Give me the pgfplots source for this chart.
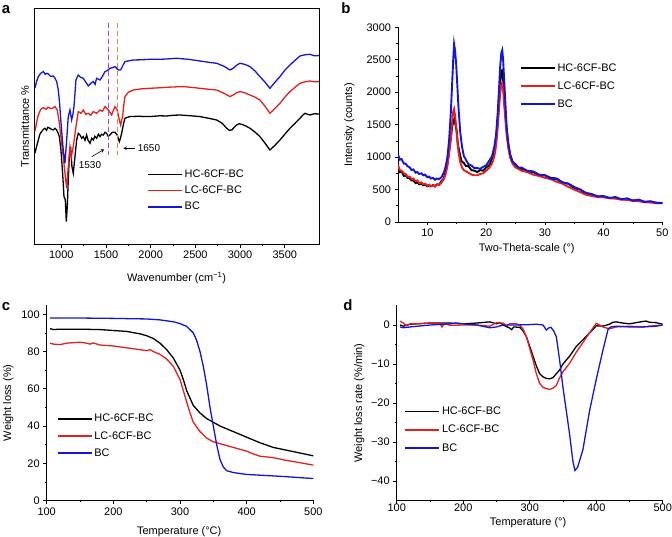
\documentclass[border=0pt]{standalone}
\usepackage{fontspec}
\setmainfont{Liberation Sans}
\usepackage{pgfplots}
\pgfplotsset{compat=1.18}
\definecolor{cred}{RGB}{232,30,30}
\definecolor{cblue}{RGB}{20,20,222}
\definecolor{cpurple}{RGB}{175,70,205}
\definecolor{corange}{RGB}{225,135,60}
\pgfplotsset{
  panel/.style={
    scale only axis,
    axis line style={line width=0.6bp},
    every tick/.style={line width=0.6bp, black},
    tick align=outside,
    major tick length=3.5bp,
    minor tick length=2bp,
    ticklabel style={font=\fontsize{11}{13}\selectfont},
    label style={font=\fontsize{11}{13}\selectfont},
    /pgf/number format/assume math mode=true,
    /pgf/number format/1000 sep={},
    legend style={draw=none, fill=none, font=\fontsize{11}{13}\selectfont, anchor=north west, inner sep=0pt, row sep=0pt},
    legend cell align=left,
  },
  open/.style={axis x line*=bottom, axis y line*=left},
  leglen/.style={legend image code/.code={\draw[##1, line width=#1] (0bp,0bp) -- (34bp,0bp);}},
}
\begin{document}
\begin{tikzpicture}[x=1bp,y=1bp]
\path[use as bounding box] (0,0) rectangle (672,537);
% ---------------- panel a
\begin{axis}[panel, at={(34.3bp,292.7bp)}, anchor=south west, width=284.7bp, height=236bp,
  xmin=698, xmax=3883, ymin=0, ymax=236,
  xtick={1000,1500,2000,2500,3000,3500}, minor x tick num=1, ytick=\empty,
  tick pos=left,
  xlabel={Wavenumber (cm\textsuperscript{−1})}, ylabel={Transmittance \%},
  xlabel style={at={(axis description cs:0.5,-0.144)}, anchor=center},
  ylabel style={at={(axis description cs:-0.033,0.5)}, anchor=center},
  legend style={at={(axis description cs:0.396,0.324)}, row sep=3bp},
  leglen=1.5bp,
  every axis plot/.append style={line width=1.3bp}]
\addplot[black] table {
705 91
724 98
743 104.3
760 110
780 112.7
800 115
817 116
835 114
850 117
873 116
890 115
911 114.3
930 116
948 114.3
965 111
978 107.7
996 94.3
1015 71
1030 47.7
1045 44.3
1056 22.7
1067 37.7
1078 64.3
1090 87.7
1104 97.7
1112 88
1119 77.7
1134 71
1153 87.7
1172 104.3
1190 111
1209 109.3
1228 106
1246 107.7
1265 104
1283 109.3
1300 104
1321 101
1340 106
1358 104.3
1375 108
1395 106
1415 110
1433 107.7
1450 110
1470 109.3
1490 112
1507 111
1525 108
1544 109.3
1570 112
1600 112
1626 109.3
1649 102.7
1662 106
1675 111
1695 120
1712 126
1740 127
1768 127.7
1850 128
1992 127.7
2100 128.5
2178 128.3
2250 129
2328 129.3
2450 128.5
2551 127.7
2650 126
2738 124.3
2800 121
2850 116
2880 114
2906 114.3
2935 117
2961 119.3
2990 120.5
3017 120
3060 118.5
3111 116
3170 112
3222 107.7
3280 101
3334 94.3
3390 99
3446 104.3
3500 110
3558 116
3615 121
3670 126
3700 129
3726 131
3755 130
3782 129.3
3830 130.5
3882 130.3
};
\addlegendentry{HC-6CF-BC}
\addplot[cred] table {
705 112.7
724 122
743 129.3
770 135
799 136.7
830 135
850 137
873 136
900 136
929 137.7
955 134.3
978 121
1000 104.3
1022 87.7
1041 71
1060 56
1078 77.7
1097 97.7
1112 87.7
1134 97.7
1150 108
1164 117.7
1190 132.7
1220 131
1246 134.3
1275 130
1302 131
1330 129
1358 132.7
1395 131
1433 134.3
1460 133
1489 137.7
1526 134.3
1563 129.3
1600 137.7
1626 134.3
1649 124.3
1664 119.3
1686 127.7
1700 140
1712 147.7
1750 152
1805 154.3
1900 155.5
1992 156
2100 156.5
2178 157
2300 157.5
2365 157.7
2450 157
2551 156
2650 155
2738 154.3
2820 151
2887 147.7
2924 149.3
2960 151.5
2999 152.7
3050 151.5
3111 149.3
3170 147
3222 144.3
3280 138
3334 131
3390 136
3446 141
3500 147
3558 152.7
3615 157
3670 161
3726 162.5
3782 163.3
3830 162.5
3882 162.7
};
\addlegendentry{LC-6CF-BC}
\addplot[cblue] table {
705 156
724 163
743 167.7
770 171
799 172.7
820 170
840 171
855 170.3
880 168
911 168.3
930 166
948 162.7
965 155
978 144.3
1000 117.7
1022 94.3
1041 81
1060 104.3
1078 127.7
1097 134.3
1116 124.3
1130 130
1142 137.7
1164 164.3
1190 169.3
1215 167
1246 166
1275 162
1302 158.3
1330 161
1358 162.7
1378 160
1395 166
1433 164.3
1460 168
1489 172.7
1520 174
1544 176
1570 176.5
1600 177.7
1638 174.3
1664 174.3
1690 179
1712 182.7
1760 183.5
1805 184.3
1900 184.5
1992 185
2100 185
2178 185.3
2290 186
2420 185
2551 183.3
2650 182
2738 181
2820 178
2887 174.3
2924 176
2960 179
2999 181
3050 180
3111 177.7
3170 173
3222 167.7
3280 162
3334 156
3390 162
3446 167.7
3500 174
3558 179.3
3615 184
3670 188.3
3726 189.5
3782 190
3830 188.5
3882 188.7
};
\addlegendentry{BC}
\draw[cpurple, line width=1.4bp, dash pattern=on 5bp off 3bp] (axis cs:1528,221) -- (axis cs:1528,89.3);
\draw[corange, line width=1.4bp, dash pattern=on 5bp off 3bp] (axis cs:1632,221) -- (axis cs:1632,89.3);
\draw[-stealth, line width=0.6bp] (axis cs:1340,87.6) -- (axis cs:1481,95);
\node[font=\fontsize{10}{12}\selectfont] at (axis cs:1321,79.3) {1530};
\draw[-stealth, line width=0.6bp] (axis cs:1824,96) -- (axis cs:1694,96);
\node[font=\fontsize{10}{12}\selectfont] at (axis cs:1981,96) {1650};
\end{axis}
% ---------------- panel b
\begin{axis}[panel, open, at={(398bp,315bp)}, anchor=south west, width=264.3bp, height=194.7bp,
  xmin=5, xmax=50, ymin=0, ymax=3000,
  xtick={10,20,30,40,50}, minor x tick num=1,
  ytick={0,500,1000,1500,2000,2500,3000}, minor y tick num=1,
  xlabel={Two-Theta-scale (°)}, ylabel={Intensity (counts)},
  xlabel style={at={(axis description cs:0.487,-0.135)}, anchor=center},
  ylabel style={at={(axis description cs:-0.184,0.5)}, anchor=center},
  legend style={at={(axis description cs:0.459,0.826)}, row sep=5bp},
  leglen=2bp,
  every axis plot/.append style={line width=1.9bp}]
\addplot[black] table {
5 830
5.3 770
5.6 780
6 710
6.3 720
6.6 680
7 670
7.3 640
7.6 640
8 600
8.3 610
8.6 580
9 590
9.3 565
9.6 575
10 550
10.3 565
10.6 550
11 570
11.3 550
11.6 580
12 575
12.4 630
12.8 670
13.1 770
13.4 890
13.7 1090
14 1290
14.2 1460
14.4 1540
14.6 1590
14.8 1490
15 1390
15.2 1190
15.5 1060
15.8 940
16.2 910
16.6 860
17 860
17.5 800
18 790
18.5 770
19 800
19.5 790
20 840
20.5 870
21 960
21.4 1070
21.7 1260
22 1590
22.2 1910
22.4 2140
22.6 2330
22.75 2340
22.9 2190
23.1 1910
23.3 1640
23.5 1410
23.8 1170
24.1 1030
24.5 920
25 870
25.5 820
26 820
27 770
28 770
29 720
30 720
31 680
32 670
33 610
34 590
35 520
36 500
37 430
38 420
39 390
40 390
41 370
42 370
43 350
44 350
45 330
46 330
47 310
48 310
49 295
50 290
};
\addlegendentry{HC-6CF-BC}
\addplot[cred] table {
5 880
5.3 800
5.6 790
6 750
6.3 740
6.6 700
7 700
7.3 660
7.6 670
8 630
8.3 640
8.6 600
9 610
9.3 580
9.6 590
10 560
10.3 575
10.6 550
11 565
11.3 545
11.6 575
12 570
12.4 610
12.8 660
13.1 730
13.4 860
13.7 1050
14 1300
14.2 1520
14.4 1700
14.55 1740
14.7 1650
14.9 1480
15.1 1250
15.3 1080
15.6 920
15.9 840
16.2 800
16.6 780
17 760
17.5 730
18 720
18.5 720
19 740
19.5 750
20 790
20.5 830
21 900
21.4 1010
21.7 1180
22 1480
22.2 1750
22.4 1980
22.6 2140
22.75 2150
22.9 2030
23.1 1780
23.3 1560
23.5 1340
23.8 1130
24.1 990
24.5 900
25 840
25.5 820
26 790
27 770
28 730
29 710
30 680
31 660
32 620
33 590
34 540
35 500
36 460
37 420
38 400
39 385
40 380
41 365
42 360
43 345
44 340
45 325
46 320
47 305
48 300
49 290
50 290
};
\addlegendentry{LC-6CF-BC}
\addplot[cblue] table {
5 1040
5.3 960
5.6 970
6 900
6.3 900
6.6 860
7 840
7.3 800
7.6 810
8 760
8.3 770
8.6 740
9 750
9.3 720
9.6 730
10 690
10.3 700
10.6 670
11 680
11.3 650
11.6 670
12 660
12.4 690
12.8 760
13.1 850
13.4 990
13.7 1260
14 1700
14.2 2100
14.4 2500
14.55 2740
14.7 2650
14.9 2440
15.1 2100
15.3 1760
15.6 1380
15.9 1160
16.2 1020
16.6 950
17 890
17.5 870
18 830
18.5 830
19 820
19.5 850
20 870
20.5 940
21 1010
21.4 1160
21.7 1350
22 1710
22.2 2050
22.4 2400
22.6 2610
22.75 2650
22.9 2490
23.1 2150
23.3 1800
23.5 1460
23.8 1200
24.1 1040
24.5 930
25 890
25.5 840
26 840
27 790
28 780
29 730
30 720
31 670
32 660
33 610
34 590
35 540
36 500
37 450
38 430
39 395
40 400
41 370
42 385
43 350
44 365
45 330
46 345
47 310
48 320
49 295
50 295
};
\addlegendentry{BC}
\end{axis}
% ---------------- panel c
\begin{axis}[panel, open, at={(46.7bp,36.5bp)}, anchor=south west, width=266.6bp, height=195.5bp,
  xmin=100, xmax=500, ymin=0, ymax=105,
  xtick={100,200,300,400,500}, minor x tick num=1,
  ytick={0,20,40,60,80,100}, minor y tick num=1,
  xlabel={Temperature (°C)}, ylabel={Weight loss (\%)},
  xlabel style={at={(axis description cs:0.497,-0.158)}, anchor=center},
  ylabel style={at={(axis description cs:-0.144,0.5)}, anchor=center},
  legend style={at={(axis description cs:0.0375,0.452)}, row sep=4bp},
  leglen=1.5bp,
  every axis plot/.append style={line width=1.3bp}]
\addplot[black] table {
105 92.3
110 91.8
120 92
150 92
180 91.8
200 91.3
220 90.8
240 89.5
250 88.5
260 87
270 84.5
280 81
290 76.5
300 70
305 65
310 59
315 55
320 51
330 47
340 44
350 42
360 40
370 38.5
380 37
390 35.5
400 34
410 32.5
420 31
440 28.5
460 27
480 25.5
500 24
};
\addlegendentry{HC-6CF-BC}
\addplot[cred] table {
105 84.5
110 84
120 83.7
130 84.5
150 85
160 84.5
165 84
170 84.6
180 83.5
200 83
220 82
240 81
250 80.5
255 81
260 80
270 78.5
280 76
290 72
300 65
305 59
310 53
315 47
320 42
330 37
340 33.5
350 31.5
360 30.5
370 29.5
380 28.5
390 27.5
400 26.5
410 25
420 23.8
440 23
460 21.5
480 20.3
500 19
};
\addlegendentry{LC-6CF-BC}
\addplot[cblue] table {
105 98
150 98
200 97.8
250 97.5
270 97
290 96
300 95
310 93.5
320 90
325 86
330 80
335 72
340 62
345 50
350 40
355 30
360 22
365 18
370 16
380 15
400 14
450 13
500 11.8
};
\addlegendentry{BC}
\end{axis}
% ---------------- panel d
\begin{axis}[panel, open, at={(396.7bp,36.5bp)}, anchor=south west, width=266bp, height=195bp,
  xmin=100, xmax=500, ymin=-45, ymax=5,
  xtick={100,200,300,400,500}, minor x tick num=1,
  xticklabel style={yshift=3.5bp},
  ytick={-40,-30,-20,-10,0}, yticklabels={−40,−30,−20,−10,0}, minor y tick num=1,
  xlabel={Temperature (°)}, ylabel={Weight loss rate (\%/min)},
  xlabel style={at={(axis description cs:0.494,-0.112)}, anchor=center},
  ylabel style={at={(axis description cs:-0.141,0.5)}, anchor=center},
  legend style={at={(axis description cs:0.0286,0.49)}, row sep=5bp},
  leglen=1.5bp,
  every axis plot/.append style={line width=1.3bp}]
\addplot[black] table {
105 0
110 -0.3
120 0.2
150 0.5
180 0.5
200 0.3
220 0.5
240 0.8
250 0.3
255 0.6
260 0
270 -0.8
273 -1.2
276 -0.5
285 -0.6
290 -1.5
295 -3
300 -5.5
305 -8
310 -10.5
315 -12.5
320 -13.3
325 -13.7
330 -13.8
335 -13.5
340 -12.5
345 -11.5
350 -10
360 -8
370 -5.5
380 -3.8
390 -2
397 -0.8
400 -0.2
410 -0.3
420 0.2
425 0.7
430 0.8
440 0.5
450 0.3
460 0.6
470 0.9
475 1.0
480 0.7
490 0.6
500 0.2
};
\addlegendentry{HC-6CF-BC}
\addplot[cred] table {
105 1
110 0.5
115 -0.2
120 0.3
130 0.3
150 0.5
165 0.4
168 -0.5
172 0.4
180 -0.1
200 0
220 0
240 -0.3
250 0.6
260 0.5
265 -0.2
270 0.3
280 0.3
285 0
290 -1
295 -3
300 -6
305 -9
310 -12.5
315 -15
320 -16
325 -16.3
330 -16.5
335 -16.2
340 -15.5
345 -13.5
350 -12
360 -9.8
370 -7
380 -4.5
390 -2
400 0.4
405 0
410 -0.5
420 -1
430 -0.5
450 -0.3
470 -0.5
480 -0.3
500 0
};
\addlegendentry{LC-6CF-BC}
\addplot[cblue] table {
105 -0.5
110 -0.7
120 -0.5
150 0
180 0.3
190 0.5
200 0.3
220 0
240 -0.7
250 -0.5
260 0
280 0
300 0.1
310 0.2
320 0
325 -1.3
328 -0.8
332 -0.6
336 -1.5
340 -3
345 -9
350 -16
355 -22
360 -28
365 -35
368 -37.3
372 -36.5
380 -32
390 -22
400 -14
410 -6.5
418 -1
422 -0.5
430 -0.3
450 -0.5
470 -0.5
490 -0.3
500 0
};
\addlegendentry{BC}
\end{axis}
% panel letters
\node[font=\bfseries\fontsize{15}{17}\selectfont] at (6bp,527bp) {a};
\node[font=\bfseries\fontsize{15}{17}\selectfont] at (346bp,529bp) {b};
\node[font=\bfseries\fontsize{15}{17}\selectfont] at (6bp,230bp) {c};
\node[font=\bfseries\fontsize{15}{17}\selectfont] at (348bp,232bp) {d};
\end{tikzpicture}
\end{document}
